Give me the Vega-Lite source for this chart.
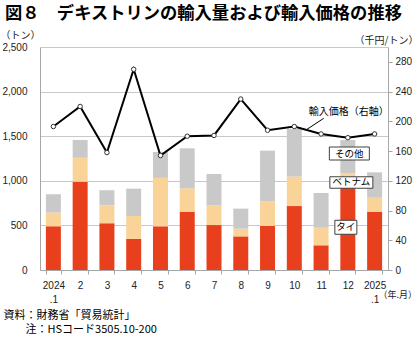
{
  "$schema": "https://vega.github.io/schema/vega-lite/v6.json",
  "width": 348,
  "height": 223,
  "autosize": {"type": "none"},
  "padding": {"left": 40, "top": 47, "right": 32, "bottom": 74},
  "background": "white",
  "config": {"view": {"stroke": null}},
  "title": {
    "text": "図８　デキストリンの輸入量および輸入価格の推移",
    "anchor": "start",
    "frame": "group",
    "dx": -35,
    "offset": 8,
    "font": "Noto Sans CJK JP",
    "fontSize": 17.3,
    "fontWeight": "bold",
    "color": "#000000"
  },
  "datasets": {
    "bars": [
      {"month": "2024.1", "country": "タイ", "tons": 490},
      {"month": "2024.1", "country": "ベトナム", "tons": 155},
      {"month": "2024.1", "country": "その他", "tons": 205},
      {"month": "2", "country": "タイ", "tons": 990},
      {"month": "2", "country": "ベトナム", "tons": 268},
      {"month": "2", "country": "その他", "tons": 200},
      {"month": "3", "country": "タイ", "tons": 523},
      {"month": "3", "country": "ベトナム", "tons": 202},
      {"month": "3", "country": "その他", "tons": 168},
      {"month": "4", "country": "タイ", "tons": 348},
      {"month": "4", "country": "ベトナム", "tons": 257},
      {"month": "4", "country": "その他", "tons": 307},
      {"month": "5", "country": "タイ", "tons": 490},
      {"month": "5", "country": "ベトナム", "tons": 543},
      {"month": "5", "country": "その他", "tons": 290},
      {"month": "6", "country": "タイ", "tons": 654},
      {"month": "6", "country": "ベトナム", "tons": 262},
      {"month": "6", "country": "その他", "tons": 448},
      {"month": "7", "country": "タイ", "tons": 504},
      {"month": "7", "country": "ベトナム", "tons": 221},
      {"month": "7", "country": "その他", "tons": 351},
      {"month": "8", "country": "タイ", "tons": 377},
      {"month": "8", "country": "ベトナム", "tons": 86},
      {"month": "8", "country": "その他", "tons": 225},
      {"month": "9", "country": "タイ", "tons": 493},
      {"month": "9", "country": "ベトナム", "tons": 280},
      {"month": "9", "country": "その他", "tons": 565},
      {"month": "10", "country": "タイ", "tons": 717},
      {"month": "10", "country": "ベトナム", "tons": 331},
      {"month": "10", "country": "その他", "tons": 533},
      {"month": "11", "country": "タイ", "tons": 277},
      {"month": "11", "country": "ベトナム", "tons": 197},
      {"month": "11", "country": "その他", "tons": 389},
      {"month": "12", "country": "タイ", "tons": 1045},
      {"month": "12", "country": "ベトナム", "tons": 40},
      {"month": "12", "country": "その他", "tons": 372},
      {"month": "2025.1", "country": "タイ", "tons": 654},
      {"month": "2025.1", "country": "ベトナム", "tons": 157},
      {"month": "2025.1", "country": "その他", "tons": 284}
    ],
    "price": [
      {"month": "2024.1", "price": 193},
      {"month": "2", "price": 220},
      {"month": "3", "price": 158},
      {"month": "4", "price": 270},
      {"month": "5", "price": 154},
      {"month": "6", "price": 180},
      {"month": "7", "price": 181},
      {"month": "8", "price": 230},
      {"month": "9", "price": 188},
      {"month": "10", "price": 193},
      {"month": "11", "price": 183},
      {"month": "12", "price": 178},
      {"month": "2025.1", "price": 183}
    ],
    "notes": [
      {"month": "12", "label": "その他", "tons": 1306},
      {"month": "12", "label": "ベトナム", "tons": 981},
      {"month": "12", "label": "タイ", "tons": 479},
      {"month": "2025.1", "label": "（年.月）", "tons": 0}
    ],
    "pricenote": [
      {"month": "12", "label": "輸入価格（右軸）", "price": 213}
    ]
  },
  "encoding": {
    "x": {
      "field": "month",
      "type": "nominal",
      "scale": {
        "domain": ["2024.1", "2", "3", "4", "5", "6", "7", "8", "9", "10", "11", "12", "2025.1"],
        "paddingInner": 0.44,
        "paddingOuter": 0.22
      },
      "axis": {
        "labelExpr": "datum.value == '2024.1' ? ['2024', '.1'] : datum.value == '2025.1' ? ['2025', '.1'] : datum.value",
        "labelAngle": 0,
        "labelFont": "Liberation Sans",
        "labelFontSize": 10,
        "labelColor": "#222222",
        "labelBaseline": "top",
        "labelLineHeight": 14,
        "labelPadding": 6,
        "tickBand": "extent",
        "tickSize": 4,
        "tickColor": "#A6A6A6",
        "domainColor": "#A6A6A6",
        "grid": false,
        "title": ["資料：財務省「貿易統計」", "\u200b　　注：HSコード3505.10-200"],
        "titleFont": "Noto Sans CJK JP",
        "titleFontSize": 11,
        "titleFontWeight": "normal",
        "titleColor": "#000000",
        "titleAnchor": "start",
        "titleAlign": "left",
        "titleBaseline": "top",
        "titleLineHeight": 14.5,
        "titleX": -37,
        "titleY": 39
      }
    }
  },
  "layer": [
    {
      "encoding": {
        "y": {
          "field": "tons",
          "type": "quantitative",
          "scale": {"domain": [0, 2500], "nice": false, "zero": true},
          "axis": {
            "orient": "left",
            "values": [0, 500, 1000, 1500, 2000, 2500],
            "format": ",.0f",
            "labelFont": "Liberation Sans",
            "labelFontSize": 10,
            "labelColor": "#222222",
            "labelPadding": 13,
            "ticks": false,
            "domainColor": "#A6A6A6",
            "grid": true,
            "gridColor": "#C8C8C8",
            "title": "（トン）",
            "titleFont": "Noto Sans CJK JP",
            "titleFontSize": 10,
            "titleFontWeight": "normal",
            "titleColor": "#222222",
            "titleAngle": 0,
            "titleAlign": "center",
            "titleBaseline": "alphabetic",
            "titleX": -20,
            "titleY": -8.5
          }
        }
      },
      "layer": [
        {
          "data": {"name": "bars"},
          "transform": [
            {"calculate": "indexof(['タイ', 'ベトナム', 'その他'], datum.country)", "as": "stackorder"}
          ],
          "mark": {"type": "bar"},
          "encoding": {
            "color": {
              "field": "country",
              "type": "nominal",
              "scale": {"domain": ["タイ", "ベトナム", "その他"], "range": ["#E8401C", "#FAD398", "#C9C9C9"]},
              "legend": null
            },
            "order": {"field": "stackorder", "type": "quantitative", "sort": "ascending"}
          }
        },
        {
          "data": {"name": "notes"},
          "transform": [{"filter": "datum.label == 'その他'"}],
          "layer": [
            {"mark": {"type": "point", "shape": "M-1,-0.325H1V0.325H-1Z", "size": 1600, "filled": true, "fill": "white", "stroke": "#404040", "strokeWidth": 1, "opacity": 1, "xOffset": 1.5}},
            {"mark": {"type": "text", "font": "Noto Sans CJK JP", "fontSize": 9.5, "color": "#000000", "baseline": "middle", "align": "center", "xOffset": 1.5}, "encoding": {"text": {"field": "label"}}}
          ]
        },
        {
          "data": {"name": "notes"},
          "transform": [{"filter": "datum.label == 'ベトナム'"}],
          "layer": [
            {"mark": {"type": "point", "shape": "M-1,-0.267H1V0.267H-1Z", "size": 1849, "filled": true, "fill": "white", "stroke": "#404040", "strokeWidth": 1, "opacity": 1, "xOffset": 3.5}},
            {"mark": {"type": "text", "font": "Noto Sans CJK JP", "fontSize": 9.5, "color": "#000000", "baseline": "middle", "align": "center", "xOffset": 3.5}, "encoding": {"text": {"field": "label"}}}
          ]
        },
        {
          "data": {"name": "notes"},
          "transform": [{"filter": "datum.label == 'タイ'"}],
          "layer": [
            {"mark": {"type": "point", "shape": "M-1,-0.636H1V0.636H-1Z", "size": 484, "filled": true, "fill": "white", "stroke": "#404040", "strokeWidth": 1, "opacity": 1, "xOffset": -2}},
            {"mark": {"type": "text", "font": "Noto Sans CJK JP", "fontSize": 9.5, "color": "#000000", "baseline": "middle", "align": "center", "xOffset": -2}, "encoding": {"text": {"field": "label"}}}
          ]
        },
        {
          "data": {"name": "notes"},
          "transform": [{"filter": "datum.label == '（年.月）'"}],
          "mark": {"type": "text", "font": "Noto Sans CJK JP", "fontSize": 9, "color": "#222222", "baseline": "middle", "align": "left", "dx": 4, "dy": 25},
          "encoding": {"text": {"field": "label"}}
        }
      ]
    },
    {
      "encoding": {
        "y": {
          "field": "price",
          "type": "quantitative",
          "scale": {"domain": [0, 300], "nice": false, "zero": true},
          "axis": {
            "orient": "right",
            "values": [0, 40, 80, 120, 160, 200, 240, 280],
            "labelFont": "Liberation Sans",
            "labelFontSize": 10,
            "labelColor": "#222222",
            "labelPadding": 3,
            "ticks": true,
            "tickSize": 4,
            "tickColor": "#A6A6A6",
            "domainColor": "#A6A6A6",
            "grid": false,
            "title": "（千円/トン）",
            "titleFont": "Noto Sans CJK JP",
            "titleFontSize": 10,
            "titleFontWeight": "normal",
            "titleColor": "#222222",
            "titleAngle": 0,
            "titleAlign": "right",
            "titleBaseline": "alphabetic",
            "titleX": 30,
            "titleY": -4
          }
        }
      },
      "layer": [
        {
          "data": {"name": "price"},
          "mark": {"type": "line", "color": "#000000", "strokeWidth": 2}
        },
        {
          "data": {"name": "price"},
          "mark": {"type": "point", "filled": true, "fill": "white", "stroke": "#333333", "strokeWidth": 1, "size": 20, "opacity": 1}
        },
        {
          "data": {"name": "pricenote"},
          "mark": {"type": "text", "font": "Noto Sans CJK JP", "fontSize": 10, "color": "#000000", "baseline": "middle", "align": "center", "xOffset": 1},
          "encoding": {"text": {"field": "label"}}
        },
        {
          "data": {"name": "pricenote"},
          "mark": {"type": "rule", "color": "#000000", "strokeWidth": 1, "xOffset": -40.8, "x2Offset": -24.1},
          "encoding": {
            "x2": {"field": "month"},
            "y": {"datum": 189.3},
            "y2": {"datum": 204.1}
          }
        }
      ]
    }
  ],
  "resolve": {"scale": {"y": "independent"}}
}
